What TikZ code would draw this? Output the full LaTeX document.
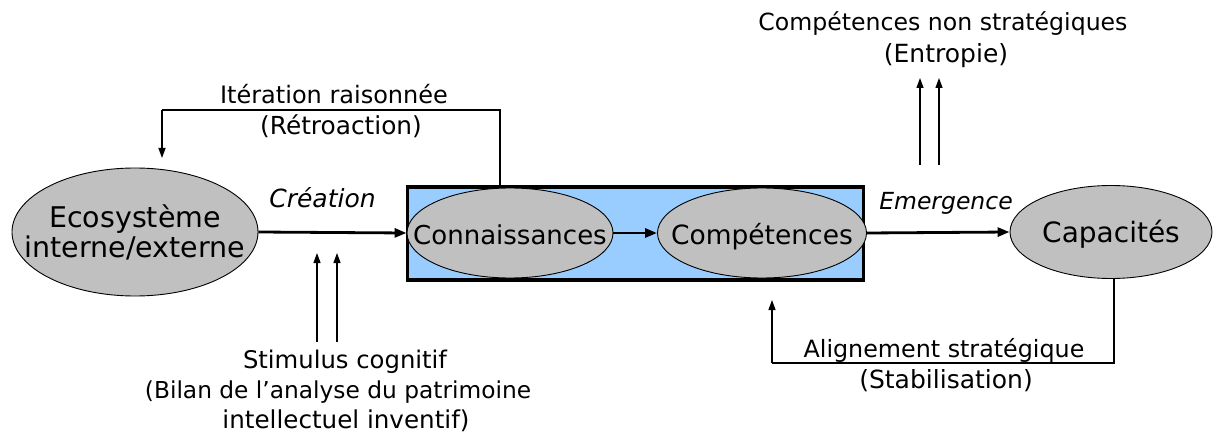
\documentclass[tikz,border=0pt]{standalone}
\usepackage{fontspec}
\setmainfont{DejaVu Sans}
\usetikzlibrary{shapes.geometric,arrows.meta}
\definecolor{ellgray}{HTML}{C0C0C0}
\definecolor{boxblue}{HTML}{99CCFF}
\newcommand{\fs}[1]{\fontsize{#1}{30}\selectfont}
\begin{document}
\begin{tikzpicture}[x=1pt,y=-1pt,
  ell/.style={ellipse,draw=black,line width=0.9pt,fill=ellgray,inner sep=-30pt,align=center},
  one/.style={text height=22pt,text depth=0pt},
  lbl/.style={align=center,inner sep=0pt,anchor=base},
  lblit/.style={inner sep=0pt,anchor=base},
  flow/.style={line width=2.8pt,-{Triangle[length=12pt,width=9pt]}},
  thin/.style={line width=1.2pt,-{Triangle[length=10pt,width=7pt]}},
  thinline/.style={line width=1.2pt}
]
\useasboundingbox (0,0) rectangle (1217,438);
\fill[white] (0,0) rectangle (1217,438);

% blue frame
\node[draw=black,line width=3.5pt,fill=boxblue,minimum width=456pt,minimum height=93pt,inner sep=0pt] (box) at (635.5,233.5) {};

% ellipses
\node[ell,minimum width=246pt,minimum height=128pt,font=\fontsize{28.5}{30}\selectfont] (eco) at (135,232) {Ecosystème\\interne/externe};
\node[ell,one,minimum width=206pt,minimum height=90pt,font=\fs{26}] (con) at (510,233) {Connaissances};
\node[ell,one,minimum width=209pt,minimum height=90pt,font=\fs{26.5}] (comp) at (762,233) {Compétences};
\node[ell,one,minimum width=202pt,minimum height=93pt,font=\fs{28}] (cap) at (1111,232) {Capacités};

% main flows
\draw[flow] (eco.east) -- (con.west);
\draw[flow] (con.east) -- (comp.west);
\draw[flow] (comp.east) -- (cap.west);

% flow labels
\node[lblit,font=\fs{25}\itshape] (crea) at (322.5,208) {Création};
\node[lblit,font=\fs{23.5}\itshape] (emer) at (946,210) {Emergence};

% feedback (Rétroaction)
\coordinate (fbstart) at (500,186);
\coordinate (fbtop) at (162,110);
\coordinate (fbend) at (162,158);
\draw[thinline] (fbstart) |- (fbtop);
\draw[thin] (fbtop) -- (fbend);
\node[lbl,font=\fs{24}] (iter) at (334,104) {Itération raisonnée};
\node[lbl,font=\fs{24.8}] (retro) at (341,135) {(Rétroaction)};

% stimulus
\node[lbl,font=\fs{24.3}] (stim) at (345,368) {Stimulus cognitif};
\node[lbl,font=\fs{23.3}] (bilan) at (338,398) {(Bilan de l’analyse du patrimoine};
\node[lbl,font=\fs{24.6}] (intel) at (346,428) {intellectuel inventif)};
\coordinate (s1a) at (317,342);
\coordinate (s1b) at (317,253);
\coordinate (s2a) at (337,342);
\coordinate (s2b) at (337,253);
\draw[thin] (s1a) -- (s1b);
\draw[thin] (s2a) -- (s2b);

% entropie
\node[lbl,font=\fs{23.6}] (nonstrat) at (943,31) {Compétences non stratégiques};
\node[lbl,font=\fs{25}] (entro) at (946,63) {(Entropie)};
\coordinate (e1a) at (920,165);
\coordinate (e1b) at (920,78);
\coordinate (e2a) at (939,165);
\coordinate (e2b) at (939,78);
\draw[thin] (e1a) -- (e1b);
\draw[thin] (e2a) -- (e2b);

% alignement (stabilisation)
\coordinate (alcap) at (1114,278);
\coordinate (albot) at (772,363);
\coordinate (alend) at (772,300);
\draw[thinline] (alcap) |- (albot);
\draw[thin] (albot) -- (alend);
\node[lbl,font=\fs{23.8}] (align) at (944,357) {Alignement stratégique};
\node[lbl,font=\fs{25}] (stab) at (946,388) {(Stabilisation)};
\end{tikzpicture}
\end{document}
